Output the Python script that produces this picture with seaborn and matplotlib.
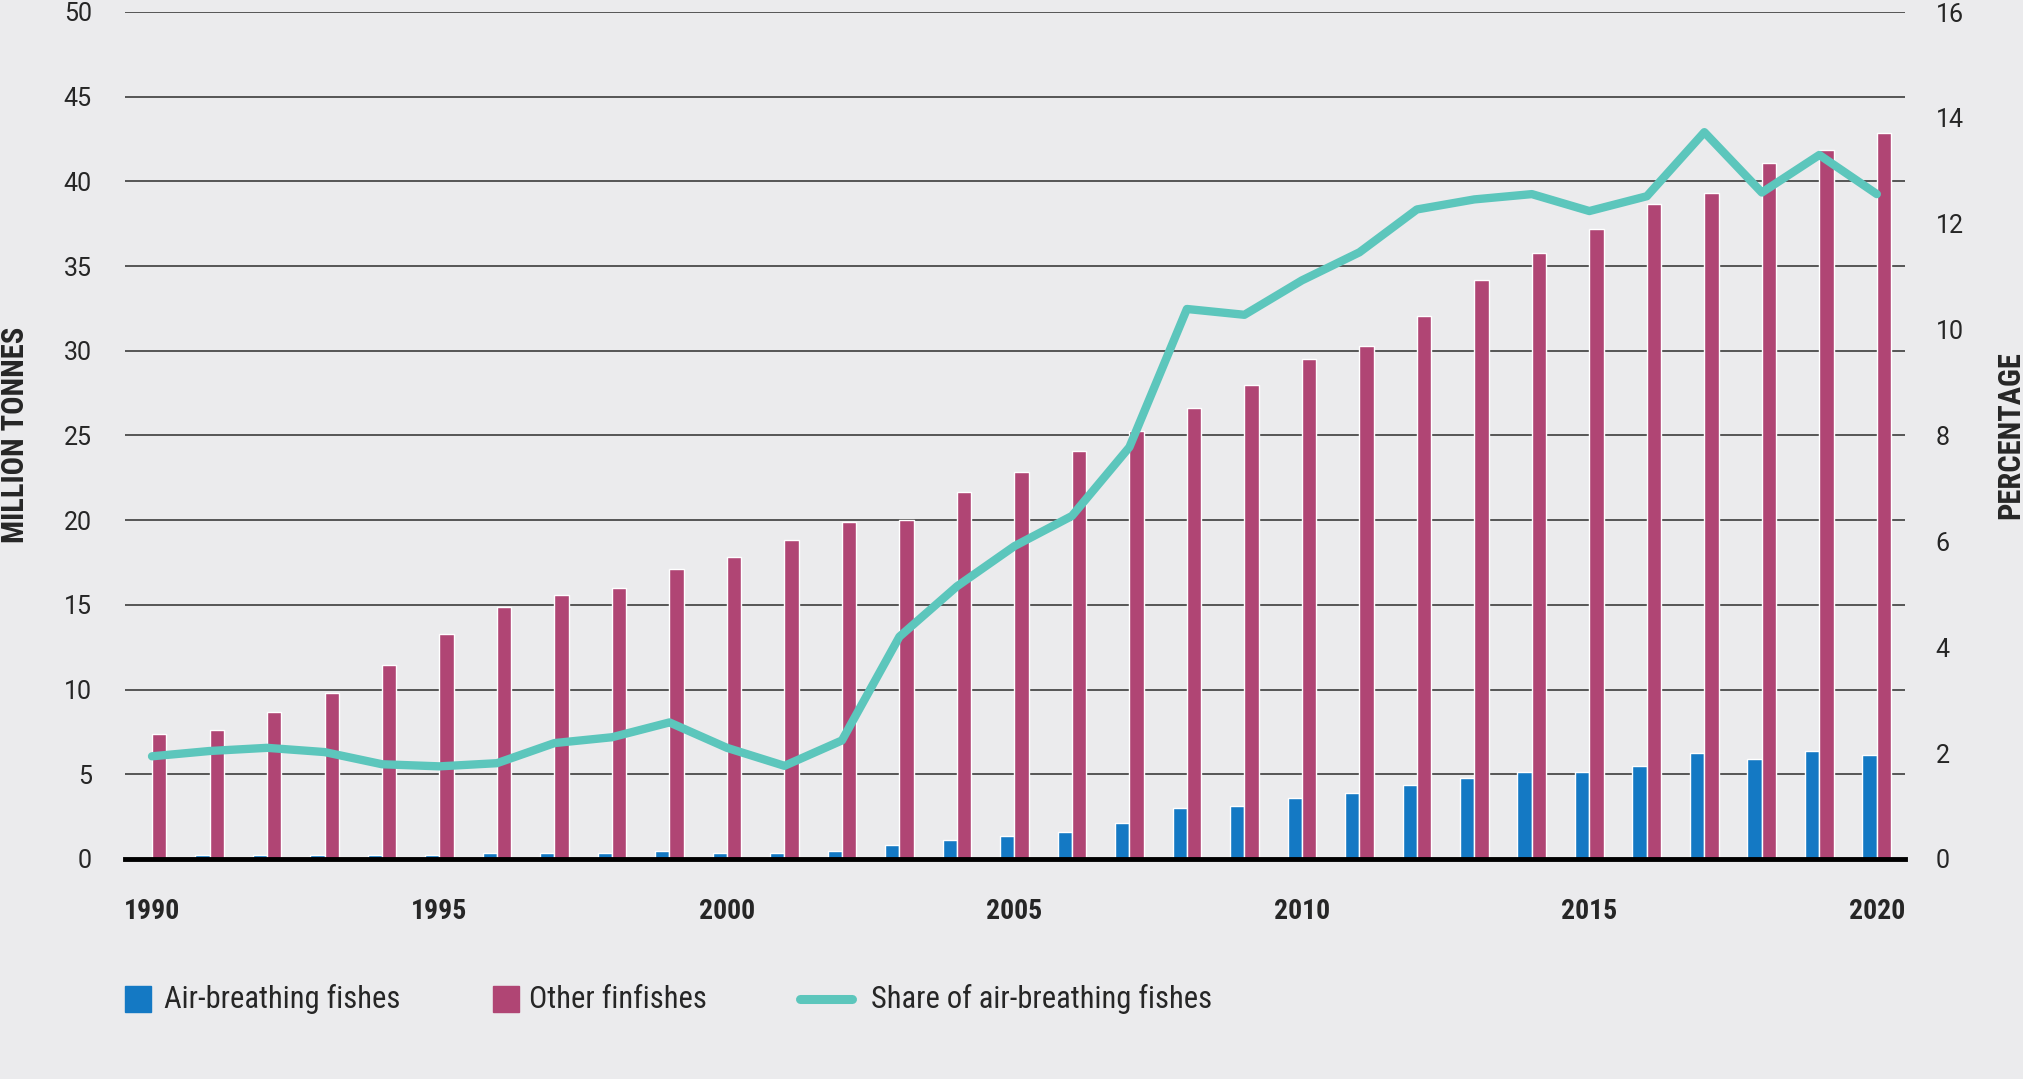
import numpy as np
import pandas as pd
import matplotlib
matplotlib.use("Agg")
import matplotlib.pyplot as plt
import seaborn as sns
from matplotlib import font_manager
from matplotlib.patches import Rectangle
from matplotlib.lines import Line2D

# data
years = list(range(1990, 2021))
air_breathing = [0.05, 0.21, 0.21, 0.21, 0.21, 0.21, 0.37, 0.37, 0.37, 0.49,
                 0.37, 0.37, 0.49, 0.85, 1.10, 1.36, 1.61, 2.12, 2.99, 3.13,
                 3.63, 3.88, 4.39, 4.76, 5.13, 5.13, 5.50, 6.25, 5.88, 6.39, 6.12]
other_finfishes = [7.4, 7.6, 8.7, 9.8, 11.45, 13.3, 14.9, 15.6, 16.0, 17.1,
                   17.8, 18.84, 19.87, 20.0, 21.65, 22.83, 24.1, 25.25, 26.63, 27.99,
                   29.49, 30.27, 32.03, 34.17, 35.76, 37.19, 38.69, 39.32, 41.11, 41.83, 42.88]
share = [1.94, 2.04, 2.10, 2.02, 1.79, 1.75, 1.81, 2.19, 2.30, 2.58,
         2.10, 1.76, 2.24, 4.20, 5.15, 5.91, 6.48, 7.78, 10.39, 10.28,
         10.93, 11.46, 12.27, 12.46, 12.56, 12.24, 12.52, 13.73, 12.59, 13.30, 12.56]
series_names = ["Air-breathing fishes", "Other finfishes"]
line_name = "Share of air-breathing fishes"

blue = "#1479C4"
pink = "#B04574"
teal = "#5CC6BC"
bg = "#EBEBED"

sns.set_style("white")
plt.rcParams["font.family"] = ["Roboto", "DejaVu Sans"]

# look for a condensed face for the labels
cond = {"family": ["DejaVu Sans"]}
for f in font_manager.fontManager.ttflist:
    if f.name in ("Roboto Condensed", "Liberation Sans Narrow"):
        cond = {"family": [f.name, "DejaVu Sans"]}
        break
else:
    for f in font_manager.fontManager.ttflist:
        if f.stretch in ("condensed", "semi-condensed") or "Condensed" in f.fname:
            cond = {"family": [f.name, "DejaVu Sans"], "stretch": "condensed"}
            break

df = pd.DataFrame({
    "year": [str(y) for y in years] * 2,
    "value": air_breathing + other_finfishes,
    "series": [series_names[0]] * len(years) + [series_names[1]] * len(years),
})

fig = plt.figure(figsize=(20.23, 10.79), dpi=100, facecolor=bg)
ax = fig.add_axes([125 / 2023, 1 - 859 / 1079, 1780 / 2023, 847 / 1079])
ax.set_facecolor(bg)

sns.barplot(data=df, x="year", y="value", hue="series", hue_order=series_names,
            palette=[blue, pink], width=0.5, saturation=1, legend=False, ax=ax)

ax.set_ylim(0, 50)
ax.set_yticks(range(0, 51, 5))
ax.yaxis.grid(True, color="#4a4a4a", lw=1.3)
ax.set_axisbelow(True)
for s in ["top", "left", "right"]:
    ax.spines[s].set_visible(False)
ax.spines["bottom"].set_linewidth(3.5)
ax.spines["bottom"].set_color("black")
ax.spines["bottom"].set_zorder(5)
ax.set_xlabel("")
ax.set_ylabel("")

tick_pos = [i for i, y in enumerate(years) if y % 5 == 0]
ax.set_xticks(tick_pos)
ax.set_xticklabels([str(years[i]) for i in tick_pos], fontweight="bold", fontsize=20, **cond)
ax.tick_params(axis="x", length=0, pad=28)
ax.tick_params(axis="y", length=0, pad=24, labelsize=18)

ax2 = ax.twinx()
sns.lineplot(x=np.arange(len(years)), y=share, color=teal, lw=6, ax=ax2)
ax2.set_ylim(0, 16)
ax2.set_yticks(range(0, 17, 2))
ax2.tick_params(axis="y", length=0, pad=22, labelsize=18)
for s in ax2.spines.values():
    s.set_visible(False)
ax2.set_xlim(-0.47, 30.49)
ax.set_xlim(-0.47, 30.49)

fig.text(15 / 2023, 1 - 435 / 1079, "MILLION TONNES", rotation=90, ha="center", va="center",
         fontsize=22, fontweight="bold", **cond)
fig.text(2010 / 2023, 1 - 435 / 1079, "PERCENTAGE", rotation=90, ha="center", va="center",
         fontsize=22, fontweight="bold", **cond)

# legend along the bottom
ly = 1 - 999 / 1079
sq_w, sq_h = 26 / 2023, 26 / 1079
fig.add_artist(Rectangle((125 / 2023, ly - sq_h / 2), sq_w, sq_h, color=blue, transform=fig.transFigure))
fig.text(164 / 2023, ly, series_names[0], va="center", fontsize=22, **cond)
fig.add_artist(Rectangle((493 / 2023, ly - sq_h / 2), sq_w, sq_h, color=pink, transform=fig.transFigure))
fig.text(529 / 2023, ly, series_names[1], va="center", fontsize=22, **cond)
fig.add_artist(Line2D([800 / 2023, 852 / 2023], [ly, ly], color=teal, lw=6.5,
                      solid_capstyle="round", transform=fig.transFigure))
fig.text(871 / 2023, ly, line_name, va="center", fontsize=22, **cond)

fig.savefig("out.png", dpi=100, facecolor=bg)
